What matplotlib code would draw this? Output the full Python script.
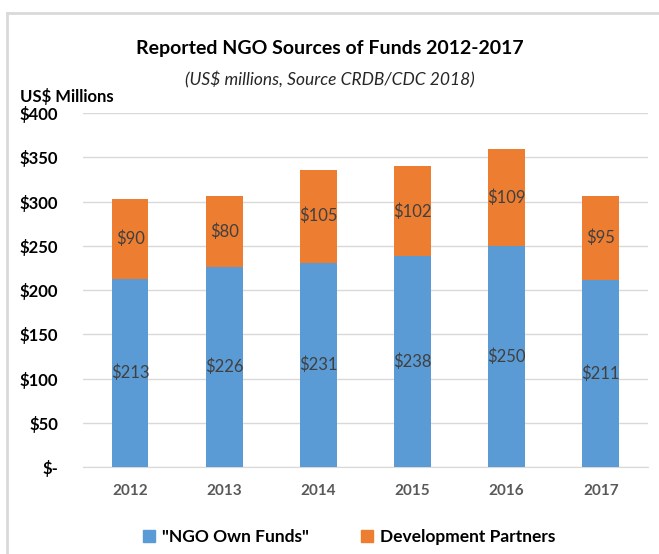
import matplotlib
matplotlib.use("Agg")
import matplotlib.pyplot as plt
from matplotlib.lines import Line2D
from matplotlib.patches import Patch

years = ["2012", "2013", "2014", "2015", "2016", "2017"]
own_funds = [213, 226, 231, 238, 250, 211]
dev_partners = [90, 80, 105, 102, 109, 95]
yticks = [0, 50, 100, 150, 200, 250, 300, 350, 400]
ytick_labels = ["$-", "$50", "$100", "$150", "$200", "$250", "$300", "$350", "$400"]

BLUE = "#5B9BD5"
ORANGE = "#ED7D31"
plt.rcParams["font.family"] = ["Lato", "DejaVu Sans"]

fig = plt.figure(figsize=(6.59, 5.54), dpi=100)
ax = fig.add_axes([0.126, 0.157, 0.857, 0.639])

x = range(len(years))
ax.bar(x, own_funds, width=0.39, color=BLUE, zorder=3)
ax.bar(x, dev_partners, width=0.39, bottom=own_funds, color=ORANGE, zorder=3)

for i, (a, b) in enumerate(zip(own_funds, dev_partners)):
    ax.text(i, a / 2, f"${a}", ha="center", va="center", fontsize=12,
            color="#404040", zorder=4)
    ax.text(i, a + b / 2, f"${b}", ha="center", va="center", fontsize=12,
            color="#404040", zorder=4)

ax.set_ylim(0, 400)
ax.set_xlim(-0.5, len(years) - 0.5)
ax.set_yticks(yticks)
ax.set_yticklabels(ytick_labels, fontsize=12, fontweight="bold", color="black")
ax.set_xticks(list(x))
ax.set_xticklabels(years, fontsize=11, fontweight="bold", color="#595959")
ax.tick_params(axis="both", length=0)
ax.tick_params(axis="y", pad=18)
ax.tick_params(axis="x", pad=12)
ax.grid(axis="y", color="#D9D9D9", lw=1, zorder=0)
for s in ["top", "right", "left"]:
    ax.spines[s].set_visible(False)
ax.spines["bottom"].set_color("#D9D9D9")

fig.text(0.5, 0.913, "Reported NGO Sources of Funds 2012-2017", ha="center",
         va="center", fontsize=14, fontweight="bold")
fig.text(0.5, 0.855, "(US$ millions, Source CRDB/CDC 2018)", ha="center",
         va="center", fontsize=12.5, style="italic", color="#262626")
fig.text(0.03, 0.825, "US$ Millions", ha="left", va="center", fontsize=12,
         fontweight="bold")

handles = [Patch(color=BLUE), Patch(color=ORANGE)]
fig.legend(handles, ['"NGO Own Funds"', "Development Partners"],
           loc="center", bbox_to_anchor=(0.53, 0.03), ncol=2, frameon=False,
           prop={"size": 12.5, "weight": "bold"}, handlelength=0.7,
           handleheight=0.7, columnspacing=3.0, handletextpad=0.4)

# frame lines along top and left edge
fig.add_artist(Line2D([0.011, 1.0], [0.977, 0.977], color="#D9D9D9", lw=2,
                      transform=fig.transFigure))
fig.add_artist(Line2D([0.011, 0.011], [0.0, 0.977], color="#D9D9D9", lw=2,
                      transform=fig.transFigure))

fig.savefig("out.png", dpi=100)
